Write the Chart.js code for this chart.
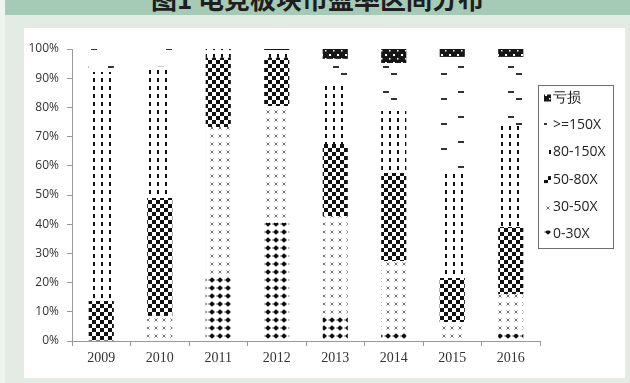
<!DOCTYPE html>
<html><head><meta charset="utf-8">
<script src="https://cdn.jsdelivr.net/npm/chart.js@4.4.0/dist/chart.umd.min.js"></script>
<style>
html,body{margin:0;padding:0;}
body{width:630px;height:383px;background:#e2ece4;position:relative;overflow:hidden;}
#strip{position:absolute;left:0;top:0;width:5px;height:383px;background:#eef5f0;}
#hdr{position:absolute;left:5px;top:0;width:625px;height:15px;background:#a5cab6;overflow:hidden;}
#title{position:absolute;left:0;width:625px;text-align:center;top:-15px;font-weight:bold;font-size:26px;font-family:"Noto Sans CJK SC";line-height:26px;color:#1e1e1e;white-space:nowrap;}
#panel{position:absolute;left:24px;top:28px;width:601px;height:350px;background:#fff;}
</style></head>
<body>
<div id="strip"></div>
<div id="hdr"><div id="title">图1 电竞板块市盈率区间分布</div></div>
<div id="panel"><canvas id="c" width="601" height="350"></canvas></div>
<script>
const categories = ['2009','2010','2011','2012','2013','2014','2015','2016'];
const seriesNames = ['0-30X','30-50X','50-80X','80-150X','>=150X','亏损'];
const s0to30   = [0, 0, 22.6, 40.4, 8.2, 3.0, 0, 2.5];
const s30to50  = [0, 8.6, 50.7, 40.1, 34.6, 24.4, 6.5, 13.6];
const s50to80  = [13.7, 40.4, 23.7, 16.5, 24.7, 30.1, 15.1, 22.9];
const s80to150 = [78.4, 45.0, 3.0, 2.0, 19.8, 21.3, 35.9, 34.6];
const s150plus = [7.9, 6.0, 0, 0.6, 9.3, 16.4, 39.8, 23.7];
const sLoss    = [0, 0, 0, 0.4, 3.4, 4.8, 2.7, 2.7];
const yTicks = [0,10,20,30,40,50,60,70,80,90,100];

function makePattern(w, h, draw){
  const cv = document.createElement('canvas');
  cv.width = w; cv.height = h;
  const g = cv.getContext('2d');
  g.fillStyle = '#fff'; g.fillRect(0,0,w,h);
  draw(g);
  return document.getElementById('c').getContext('2d').createPattern(cv,'repeat');
}
const pDiamond = makePattern(8,8,g=>{
  g.fillStyle='#111';
  g.beginPath(); g.moveTo(4,1.2); g.lineTo(7,4); g.lineTo(4,6.8); g.lineTo(1,4); g.closePath(); g.fill();
  g.fillStyle='#777'; g.fillRect(0,3.5,1,1);
});
const pCross = makePattern(8,8,g=>{
  g.strokeStyle='#767676'; g.lineWidth=1;
  g.beginPath(); g.moveTo(2.5,2.5); g.lineTo(5.5,5.5); g.moveTo(5.5,2.5); g.lineTo(2.5,5.5); g.stroke();
});
const pChecker = makePattern(8,8,g=>{
  g.fillStyle='#111'; g.fillRect(0,0,4,4); g.fillRect(4,4,4,4);
});
const pVDash = makePattern(8,8,g=>{
  g.fillStyle='#111'; g.fillRect(5,2,2,4);
});
const pHDash = makePattern(25,25,g=>{
  g.fillStyle='#333'; g.fillRect(9,13,6,2); g.fillRect(17,20,6,2);
});
const pLoss = makePattern(8,8,g=>{
  g.fillStyle='#161616'; g.fillRect(0,0,8,8);
  g.fillStyle='#fff'; g.fillRect(1,2,2,2); g.fillRect(5,6,1.5,1.5);
});

const seriesValues = [s0to30, s30to50, s50to80, s80to150, s150plus, sLoss];
const fills = [pDiamond, pCross, pChecker, pVDash, pHDash, pLoss];

const legendPlugin = {
  id:'boxLegend',
  afterDraw(chart){
    const ctx = chart.ctx;
    ctx.save();
    ctx.strokeStyle = '#6e6e6e'; ctx.lineWidth = 1;
    ctx.strokeRect(514.5, 57.5, 75, 163);
    const ds = chart.data.datasets;
    ctx.font = '14px "Open Sans"';
    ctx.textBaseline = 'middle';
    for (let k = 0; k < ds.length; k++){
      const i = ds.length - 1 - k;
      const cy = 70 + k*27.2;
      ctx.fillStyle = ds[i].backgroundColor;
      ctx.fillRect(520, cy-3.5, 7, 7);
      ctx.fillStyle = '#222';
      ctx.fillText(ds[i].label, 529, cy);
    }
    ctx.restore();
  }
};

new Chart(document.getElementById('c'), {
  type:'bar',
  data:{
    labels: categories,
    datasets: seriesNames.map((n,i)=>({label:n, data:seriesValues[i], backgroundColor:fills[i], borderWidth:0, barPercentage:0.43, categoryPercentage:1}))
  },
  options:{
    responsive:false, animation:false,
    layout:{padding:{left:0,right:85,top:21,bottom:0}},
    plugins:{legend:{display:false}, tooltip:{enabled:false}},
    scales:{
      x:{stacked:true,
        grid:{display:true, drawOnChartArea:false, offset:true, tickLength:5, color:'#999'},
        border:{color:'#999'},
        ticks:{font:{family:'Liberation Serif', size:14}, color:'#333', padding:4},
        afterFit(s){ s.height = 37; }
      },
      y:{stacked:true, min:0, max:100,
        afterBuildTicks(s){ s.ticks = yTicks.map(v=>({value:v})); },
        ticks:{callback:v=>v+'%', font:{family:'Open Sans', size:12}, color:'#333', padding:8},
        grid:{drawOnChartArea:false, tickLength:5, color:'#999'},
        border:{color:'#999'},
        afterFit(s){ s.width = 48; }
      }
    }
  },
  plugins:[legendPlugin]
});
</script>
</body></html>
